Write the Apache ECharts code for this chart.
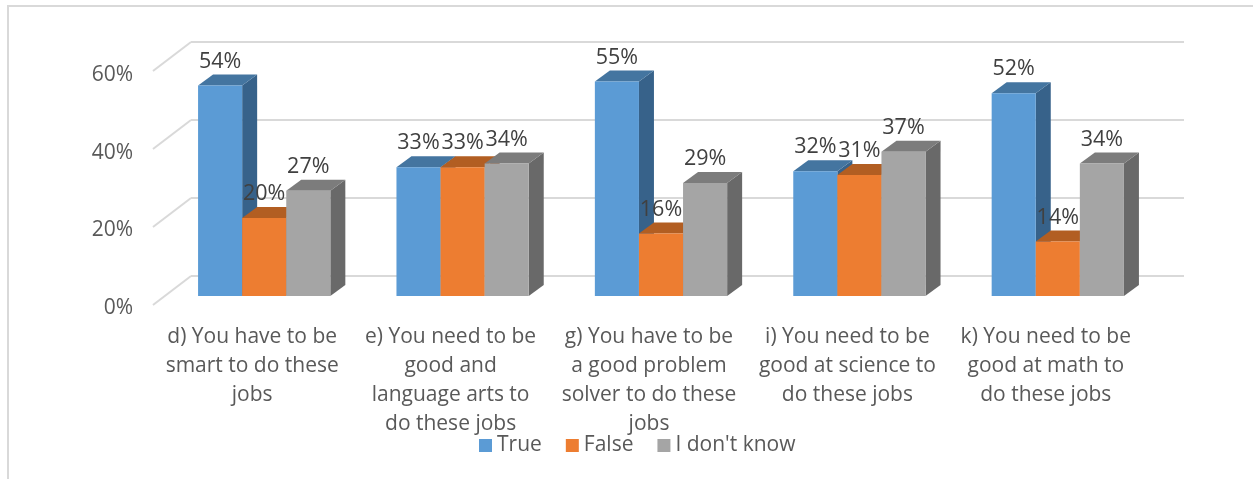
<!DOCTYPE html>
<html>
<head>
<meta charset="utf-8">
<style>html,body{margin:0;padding:0;background:#fff}#c{width:1253px;height:479px}</style>
<script src="https://cdn.jsdelivr.net/npm/echarts@6/dist/echarts.min.js"></script>
</head>
<body>
<div id="c"></div>
<script>
const categories = [
  "d) You have to be\nsmart to do these\njobs",
  "e) You need to be\ngood and\nlanguage arts to\ndo these jobs",
  "g) You have to be\na good problem\nsolver to do these\njobs",
  "i) You need to be\ngood at science to\ndo these jobs",
  "k) You need to be\ngood at math to\ndo these jobs"
];
const trueValues = [54, 33, 55, 32, 52];
const falseValues = [20, 33, 16, 31, 14];
const dontKnowValues = [27, 34, 29, 37, 34];
const yTicks = [0, 20, 40, 60];

const FONT = '"Open Sans"';
const DX = 15, DY = 11;

function barSeries(name, values, offset, front, top, side) {
  return {
    type: 'custom', name, xAxisIndex: 0, yAxisIndex: 0, z: 3,
    itemStyle: { color: front },
    data: values.map((v, i) => [i, v]),
    renderItem(params, api) {
      const p = api.coord([api.value(0), api.value(1)]);
      const base = api.coord([api.value(0), 0])[1];
      const w = api.size([1, 0])[0] * 2 / 9;
      const x0 = p[0] + (offset - 0.5) * w, x1 = x0 + w, y = p[1];
      return {
        type: 'group',
        children: [
          { type: 'polygon', shape: { points: [[x1, y], [x1 + DX, y - DY], [x1 + DX, base - DY], [x1, base]] }, style: { fill: side } },
          { type: 'polygon', shape: { points: [[x0, y], [x0 + DX, y - DY], [x1 + DX, y - DY], [x1, y]] }, style: { fill: top } },
          { type: 'rect', shape: { x: x0, y: y, width: w, height: base - y }, style: { fill: front } },
          { type: 'text', z2: 100, style: { text: api.value(1) + '%', x: x0 + w / 2, y: y - DY - 13, align: 'center', verticalAlign: 'middle', fill: '#404040', font: '21.5px ' + FONT } }
        ]
      };
    }
  };
}

const option = {
  backgroundColor: '#ffffff',
  animation: false,
  textStyle: { fontFamily: FONT },
  graphic: [{ type: 'rect', silent: true, z: -10, shape: { x: 8, y: 6, width: 1300, height: 520 }, style: { fill: 'none', stroke: '#d9d9d9', lineWidth: 2 } }],
  grid: [
    { left: 165, top: 62, width: 992, height: 234 },
    { left: 191, top: 42, width: 993, height: 234 },
    { left: 153, top: 75, width: 992, height: 233 }
  ],
  xAxis: [
    { type: 'category', gridIndex: 0, data: categories, show: false },
    { type: 'category', gridIndex: 1, data: categories, show: false },
    { type: 'category', gridIndex: 2, data: categories,
      axisLine: { show: false }, axisTick: { show: false },
      axisLabel: { interval: 0, margin: 15, color: '#595959', fontFamily: FONT, fontSize: 21, lineHeight: 29, align: 'center', verticalAlign: 'top' } }
  ],
  yAxis: [
    { type: 'value', gridIndex: 0, min: 0, max: 60, interval: 20, show: false },
    { type: 'value', gridIndex: 1, min: 0, max: 60, interval: 20,
      axisLine: { show: false }, axisTick: { show: false }, axisLabel: { show: false },
      splitLine: { show: true, lineStyle: { color: '#d9d9d9', width: 2 } } },
    { type: 'value', gridIndex: 2, min: 0, max: 60, interval: 20,
      axisLine: { show: false }, axisTick: { show: false }, splitLine: { show: false },
      axisLabel: { margin: 20, color: '#595959', fontFamily: FONT, fontSize: 21, formatter: '{value}%' } }
  ],
  legend: {
    data: ['True', 'False', "I don't know"], left: 474, top: 430, icon: 'rect',
    itemWidth: 13, itemHeight: 13, itemGap: 24,
    textStyle: { color: '#595959', fontFamily: FONT, fontSize: 21 }
  },
  series: [
    { type: 'custom', name: 'wall', xAxisIndex: 0, yAxisIndex: 0, z: 1, silent: true, clip: false,
      data: yTicks.map(v => [0, v]),
      renderItem(params, api) {
        const y = api.coord([0, api.value(1)])[1] + 9;
        const x = params.coordSys.x - 12;
        return { type: 'line', shape: { x1: x, y1: y, x2: x + 38, y2: y - 29 }, style: { stroke: '#d9d9d9', lineWidth: 2 } };
      } },
    barSeries('True', trueValues, -1, '#5b9bd5', '#4475a0', '#37628a'),
    barSeries('False', falseValues, 0, '#ed7d31', '#b25e22', '#8e4b1c'),
    barSeries("I don't know", dontKnowValues, 1, '#a5a5a5', '#7c7c7c', '#696969')
  ]
};
echarts.init(document.getElementById('c'), null, { renderer: 'canvas' }).setOption(option);
</script>
</body>
</html>
